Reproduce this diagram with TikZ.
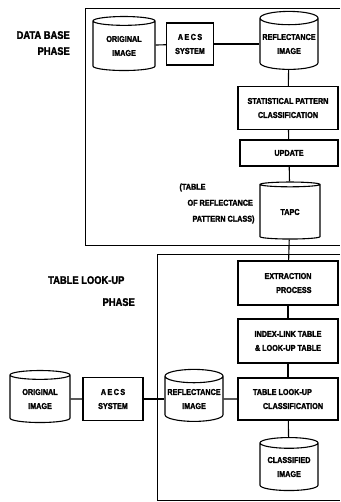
\documentclass[tikz,border=0pt]{standalone}
\usepackage{fontspec}
\newfontfamily\diagfont[FakeStretch=0.85, FakeBold=1.8]{Liberation Sans}
\usetikzlibrary{shapes.geometric}

\tikzset{
  unit/.style={draw, line width=1.1pt, rectangle, align=center, inner sep=1pt,
    font=\diagfont\bfseries\fontsize{8.5}{14}\selectfont},
  store/.style={draw, line width=1.1pt, cylinder, shape border rotate=90, aspect=0.25,
    align=center, inner sep=0pt,
    font=\diagfont\bfseries\fontsize{8.5}{14}\selectfont},
  phase/.style={font=\diagfont\bfseries\fontsize{11}{13}\selectfont, inner sep=0pt},
  note/.style={font=\diagfont\bfseries\fontsize{8.5}{16}\selectfont, align=left},
  link/.style={line width=1.1pt},
  frame/.style={line width=0.9pt}
}

\begin{document}
\begin{tikzpicture}[x=1pt, y=-1pt]
    \useasboundingbox (0,0) rectangle (340,502);
    % Draw phase frames
    \draw [frame] (340,8) -- (85,8) -- (85,245) -- (340,245);
    \draw [frame] (340,254) -- (157,254) -- (157,500) -- (340,500);
    \node [phase, anchor=north east] (ldba) at (70,31) {DATA BASE};
    \node [phase, anchor=north east] (ldbb) at (70,47) {PHASE};
    \node [phase, anchor=north west] (ltla) at (48,276) {TABLE LOOK-UP};
    \node [phase, anchor=north east] (ltlb) at (135,298) {PHASE};
    % Data base phase
    \node [store, minimum width=62pt, minimum height=54pt] (orga) at (124,46) {ORIGINAL\\IMAGE};
    \node [unit, minimum width=47pt, minimum height=42pt] (aecsa) at (190,44) {A\,E\,C\,S\\SYSTEM};
    \node [store, minimum width=58pt, minimum height=58pt] (refa) at (289,44) {REFLECTANCE\\IMAGE};
    \node [unit, minimum width=100pt, minimum height=43pt] (stat) at (288,108) {STATISTICAL PATTERN\\CLASSIFICATION};
    \node [unit, minimum width=98pt, minimum height=26pt] (upd) at (289,153) {UPDATE};
    \node [store, minimum width=60pt, minimum height=57pt] (tapc) at (290,212) {TAPC};
    \node [note, anchor=north west] (ntapc) at (176,180) {(TABLE\\\hspace{8pt}OF REFLECTANCE\\\hspace{13pt}PATTERN CLASS)};
    % Table look-up phase
    \node [unit, minimum width=100pt, minimum height=44pt, align=right] (extr) at (288,283) {EXTRACTION\\PROCESS};
    \node [unit, minimum width=100pt, minimum height=44pt] (ilt) at (288,341) {INDEX-LINK TABLE\\\&\ LOOK-UP TABLE};
    \node [unit, minimum width=100pt, minimum height=42pt, align=left] (tlc) at (288,399) {TABLE LOOK-UP\\\hspace{10pt}CLASSIFICATION};
    \node [store, minimum width=60pt, minimum height=52pt] (orgb) at (40,399) {ORIGINAL\\IMAGE};
    \node [unit, minimum width=60pt, minimum height=43pt] (aecsb) at (113,399) {A\,E\,C\,S\\SYSTEM};
    \node [store, minimum width=58pt, minimum height=52pt] (refb) at (194,399) {REFLECTANCE\\IMAGE};
    \node [store, minimum width=58pt, minimum height=53pt] (cls) at (289,467) {CLASSIFIED\\IMAGE};
    % Connect
    \draw [link] (orga) -- (aecsa);
    \draw [link] (aecsa) -- (refa);
    \draw [link] (refa) -- (stat);
    \draw [link] (stat) -- (upd);
    \draw [link] (upd) -- (tapc);
    \draw [link] (tapc) -- (extr);
    \draw [link] (extr) -- (ilt);
    \draw [link] (ilt) -- (tlc);
    \draw [link] (tlc) -- (cls);
    \draw [link] (orgb) -- (aecsb);
    \draw [link] (aecsb) -- (refb);
    \draw [link] (refb) -- (tlc);
\end{tikzpicture}
\end{document}
